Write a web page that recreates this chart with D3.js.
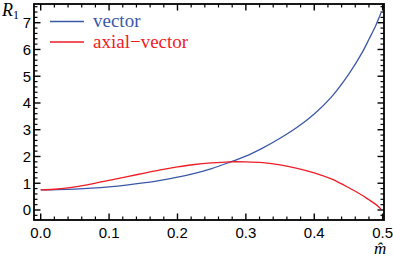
<!DOCTYPE html>
<html><head><meta charset="utf-8">
<script src="https://cdn.jsdelivr.net/npm/d3@7"></script>
<style>body{margin:0;background:#fff}svg{display:block}</style>
</head><body>
<script>
const mValues = [0, 0.025, 0.05, 0.075, 0.1, 0.125, 0.15, 0.175, 0.2, 0.225, 0.25, 0.275, 0.3, 0.325, 0.35, 0.375, 0.4, 0.425, 0.45, 0.47, 0.48, 0.49, 0.4975];
const vectorValues = [0.75, 0.76, 0.78, 0.815, 0.865, 0.93, 1.01, 1.11, 1.23, 1.37, 1.55, 1.77, 2.01, 2.32, 2.68, 3.09, 3.59, 4.22, 5.06, 5.88, 6.38, 6.90, 7.36];
const axialValues = [0.75, 0.785, 0.865, 0.975, 1.105, 1.24, 1.37, 1.50, 1.61, 1.70, 1.76, 1.80, 1.80, 1.77, 1.69, 1.56, 1.39, 1.16, 0.84, 0.55, 0.38, 0.21, 0.04];
const seriesNames = ["vector", "axial\u2212vector"];
const seriesColors = ["#3b58a8", "#ee1d26"];
const xTicks = [0, 0.1, 0.2, 0.3, 0.4, 0.5];
const yTicks = [0, 1, 2, 3, 4, 5, 6, 7];

const W = 393, H = 258;
const L = 34, R = 384, T = 4, B = 220;
const svg = d3.select("body").append("svg").attr("width", W).attr("height", H);
const x = d3.scaleLinear().domain([-0.0098, 0.502]).range([L, R]);
const y = d3.scaleLinear().domain([-0.374, 7.70]).range([B, T]);

const xMinor = d3.range(0, 0.5001, 0.02).filter(v => Math.abs(v*10 - Math.round(v*10)) > 1e-6);
const yMinor = d3.range(-0.2, 7.61, 0.2).filter(v => Math.abs(v - Math.round(v)) > 1e-6);

const g = svg.append("g");
function tickLines(vals, len, sw) {
  vals.forEach(v => {
    g.append("line").attr("x1", x(v)).attr("x2", x(v)).attr("y1", B).attr("y2", B - len).attr("stroke", "#000").attr("stroke-width", sw);
    g.append("line").attr("x1", x(v)).attr("x2", x(v)).attr("y1", T).attr("y2", T + len).attr("stroke", "#000").attr("stroke-width", sw);
  });
}
function yTickLines(vals, len, sw) {
  vals.forEach(v => {
    g.append("line").attr("y1", y(v)).attr("y2", y(v)).attr("x1", L).attr("x2", L + len).attr("stroke", "#000").attr("stroke-width", sw);
    g.append("line").attr("y1", y(v)).attr("y2", y(v)).attr("x1", R).attr("x2", R - len).attr("stroke", "#000").attr("stroke-width", sw);
  });
}
tickLines(xTicks, 6.5, 1.4);
tickLines(xMinor, 3.5, 1.2);
yTickLines(yTicks, 6.5, 1.4);
yTickLines(yMinor, 3.5, 1.2);

const line = d3.line().x(d => x(d[0])).y(d => y(d[1])).curve(d3.curveCatmullRom.alpha(0.5));
[vectorValues, axialValues].forEach((vals, i) => {
  svg.append("path").datum(mValues.map((m, j) => [m, vals[j]]))
    .attr("d", line).attr("fill", "none").attr("stroke", seriesColors[i]).attr("stroke-width", 1.3);
});

svg.append("rect").attr("x", L).attr("y", T).attr("width", R - L).attr("height", B - T)
  .attr("fill", "none").attr("stroke", "#000").attr("stroke-width", 1.8);

xTicks.forEach(v => {
  svg.append("text").attr("x", x(v)).attr("y", 238).attr("text-anchor", "middle")
    .attr("font-family", "Liberation Sans, Arial, sans-serif").attr("font-size", 15).text(v.toFixed(1));
});
yTicks.forEach(v => {
  svg.append("text").attr("x", 31).attr("y", y(v) + 5.5).attr("text-anchor", "end")
    .attr("font-family", "Liberation Sans, Arial, sans-serif").attr("font-size", 15).text(v);
});

const ry = svg.append("text").attr("x", 2).attr("y", 16).attr("font-family", "Liberation Serif, Times New Roman, serif").attr("font-size", 18);
ry.append("tspan").attr("font-style", "italic").text("R");
ry.append("tspan").attr("font-size", 12).attr("dy", 3).text("1");
svg.append("text").attr("x", 374).attr("y", 254).attr("font-family", "Liberation Serif, Times New Roman, serif").attr("font-style", "italic").attr("font-size", 17).text("m\u0302");

const legY = [21.5, 42];
seriesNames.forEach((name, i) => {
  svg.append("line").attr("x1", 50).attr("x2", 84).attr("y1", legY[i]).attr("y2", legY[i]).attr("stroke", seriesColors[i]).attr("stroke-width", 1.3);
  svg.append("text").attr("x", 93).attr("y", legY[i] + 5.5).attr("fill", seriesColors[i])
    .attr("font-family", "Liberation Serif, Times New Roman, serif").attr("font-size", 19).text(name);
});
</script>
</body></html>
